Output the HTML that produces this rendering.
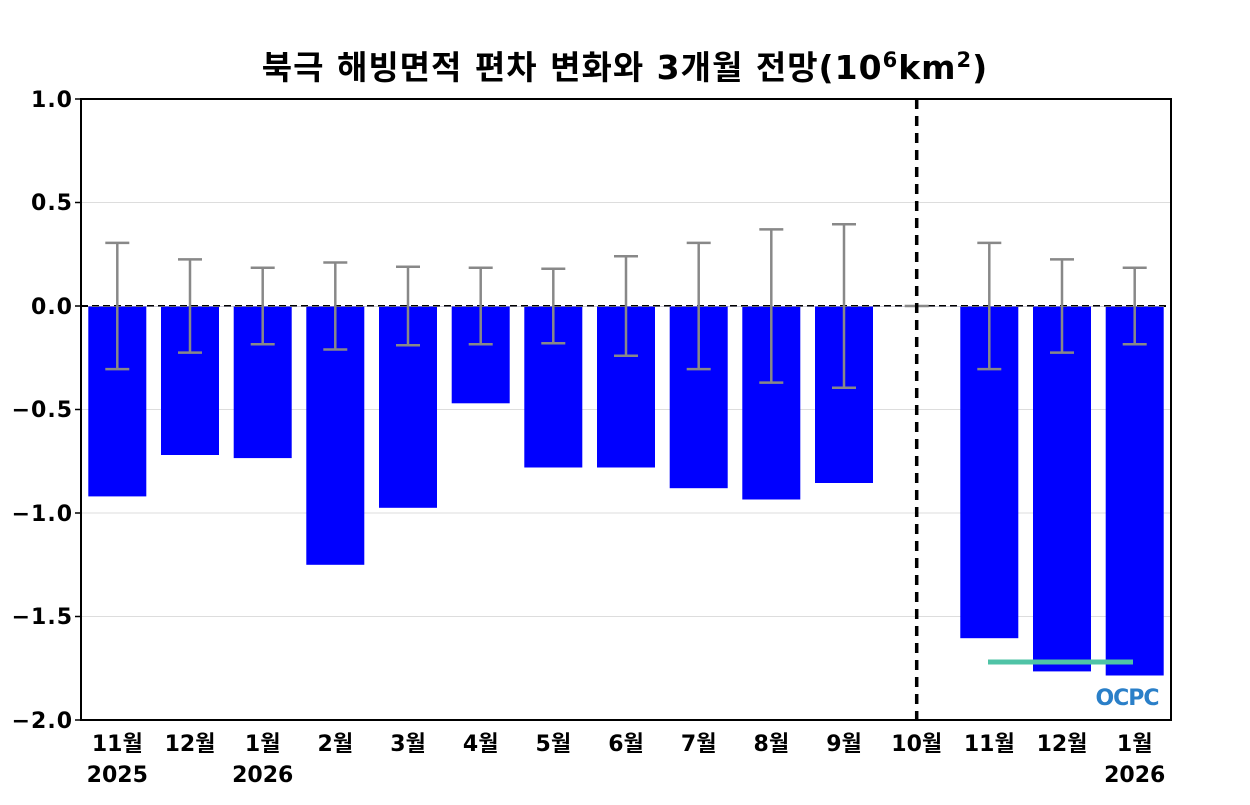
<!DOCTYPE html>
<html><head><meta charset="utf-8"><style>body{margin:0;background:#fff}svg text{font-family:"DejaVu Sans","Noto Sans CJK KR",sans-serif;font-weight:bold;fill:#000}</style></head><body>
<svg width="1250" height="800" xmlns="http://www.w3.org/2000/svg">
<text x="625" y="79" font-size="33" text-anchor="middle" letter-spacing="1">북극 해빙면적 편차 변화와 3개월 전망(10<tspan dy="-12" font-size="21">6</tspan><tspan dy="12">km</tspan><tspan dy="-12" font-size="21">2</tspan><tspan dy="12">)</tspan></text>
<g stroke="#ddd" stroke-width="1">
<line x1="81" x2="1171" y1="202.5" y2="202.5"/><line x1="81" x2="1171" y1="409.5" y2="409.5"/><line x1="81" x2="1171" y1="513" y2="513"/><line x1="81" x2="1171" y1="616.5" y2="616.5"/>
</g>
<g fill="#0000ff">
<rect x="88.3" y="306" width="58" height="190.4"/>
<rect x="161" y="306" width="58" height="149"/>
<rect x="233.7" y="306" width="58" height="152.1"/>
<rect x="306.3" y="306" width="58" height="258.8"/>
<rect x="379" y="306" width="58" height="201.8"/>
<rect x="451.7" y="306" width="58" height="97.3"/>
<rect x="524.3" y="306" width="58" height="161.5"/>
<rect x="597" y="306" width="58" height="161.5"/>
<rect x="669.7" y="306" width="58" height="182.2"/>
<rect x="742.3" y="306" width="58" height="193.5"/>
<rect x="815" y="306" width="58" height="177"/>
<rect x="960.3" y="306" width="58" height="332.2"/>
<rect x="1033" y="306" width="58" height="365.4"/>
<rect x="1105.7" y="306" width="58" height="369.5"/>
</g>
<line x1="81" x2="1171" y1="306" y2="306" stroke="#000" stroke-width="2" stroke-dasharray="7,4"/>
<line x1="88" x2="1164" y1="306.5" y2="306.5" stroke="#aab" stroke-width="1" opacity="0.6"/>
<g stroke="#888" stroke-width="2.5" fill="none">
<path d="M117.3 242.9V369.1M105.3 242.9H129.3M105.3 369.1H129.3"/>
<path d="M190 259.4V352.6M178 259.4H202M178 352.6H202"/>
<path d="M262.7 267.7V344.3M250.7 267.7H274.7M250.7 344.3H274.7"/>
<path d="M335.3 262.5V349.5M323.3 262.5H347.3M323.3 349.5H347.3"/>
<path d="M408 266.7V345.3M396 266.7H420M396 345.3H420"/>
<path d="M480.7 267.7V344.3M468.7 267.7H492.7M468.7 344.3H492.7"/>
<path d="M553.3 268.7V343.3M541.3 268.7H565.3M541.3 343.3H565.3"/>
<path d="M626 256.3V355.7M614 256.3H638M614 355.7H638"/>
<path d="M698.7 242.9V369.1M686.7 242.9H710.7M686.7 369.1H710.7"/>
<path d="M771.3 229.4V382.6M759.3 229.4H783.3M759.3 382.6H783.3"/>
<path d="M844 224.2V387.8M832 224.2H856M832 387.8H856"/>
<path d="M904.7 306H928.7"/>
<path d="M989.3 242.9V369.1M977.3 242.9H1001.3M977.3 369.1H1001.3"/>
<path d="M1062 259.4V352.6M1050 259.4H1074M1050 352.6H1074"/>
<path d="M1134.7 267.7V344.3M1122.7 267.7H1146.7M1122.7 344.3H1146.7"/>
</g>
<line x1="988" x2="1133" y1="662" y2="662" stroke="#4fc3a6" stroke-width="5"/>
<line x1="916.7" x2="916.7" y1="99" y2="720" stroke="#000" stroke-width="3.5" stroke-dasharray="10,7"/>
<text x="1127" y="705" font-size="22" text-anchor="middle" style="fill:#2a7fc8;letter-spacing:-1px">OCPC</text>
<rect x="81" y="99" width="1090" height="621" fill="none" stroke="#000" stroke-width="2"/>
<g stroke="#000" stroke-width="1.5">
<line x1="75" x2="81" y1="99" y2="99"/><line x1="75" x2="81" y1="202.5" y2="202.5"/><line x1="75" x2="81" y1="306" y2="306"/><line x1="75" x2="81" y1="409.5" y2="409.5"/><line x1="75" x2="81" y1="513" y2="513"/><line x1="75" x2="81" y1="616.5" y2="616.5"/><line x1="75" x2="81" y1="720" y2="720"/>
</g>
<g font-size="22" text-anchor="end" letter-spacing="1">
<text x="73" y="107">1.0</text><text x="73" y="210">0.5</text><text x="73" y="314">0.0</text><text x="73" y="417">−0.5</text><text x="73" y="521">−1.0</text><text x="73" y="624">−1.5</text><text x="73" y="728">−2.0</text>
</g>
<g font-size="22" text-anchor="middle">
<text x="117.3" y="751">11월</text><text x="190" y="751">12월</text><text x="262.7" y="751">1월</text><text x="335.3" y="751">2월</text><text x="408" y="751">3월</text><text x="480.7" y="751">4월</text><text x="553.3" y="751">5월</text><text x="626" y="751">6월</text><text x="698.7" y="751">7월</text><text x="771.3" y="751">8월</text><text x="844" y="751">9월</text><text x="916.7" y="751">10월</text><text x="989.3" y="751">11월</text><text x="1062" y="751">12월</text><text x="1134.7" y="751">1월</text>
<text x="117.3" y="782">2025</text><text x="262.7" y="782">2026</text><text x="1134.7" y="782">2026</text>
</g>
</svg>
</body></html>
